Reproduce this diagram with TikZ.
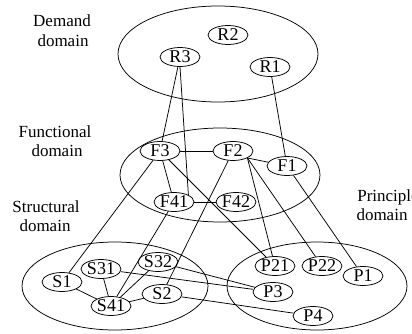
\documentclass[tikz,border=0pt]{standalone}
\usepackage{fontspec}
\setmainfont{Liberation Serif}
\usetikzlibrary{shapes.geometric}
\begin{document}
\begin{tikzpicture}[x=1pt,y=-1pt,
  domainarea/.style={draw, line width=0.75pt},
  elem/.style={draw, ellipse, line width=0.75pt, inner sep=0pt,
    minimum width=40pt, minimum height=19pt,
    font=\fontsize{18}{20}\selectfont},
  lbl/.style={anchor=base, inner sep=0pt, font=\fontsize{17}{19}\selectfont},
  link/.style={line width=0.75pt}]
\useasboundingbox (0,0) rectangle (412,334);

% domain areas
\draw[domainarea] (218,54) ellipse [x radius=100pt, y radius=48pt];
\draw[domainarea] (220,175) ellipse [x radius=100pt, y radius=47pt];
\draw[domainarea] (115,286) ellipse [x radius=93pt, y radius=44pt];
\draw[domainarea] (317,286) ellipse [x radius=90pt, y radius=44pt];

% domain labels
\node[lbl] (dem1) at (62,27) {Demand};
\node[lbl] (dem2) at (63,47) {domain};
\node[lbl] (fun1) at (55,137) {Functional};
\node[lbl] (fun2) at (57,157) {domain};
\node[lbl] (str1) at (46,212) {Structural};
\node[lbl] (str2) at (45,231) {domain};
\node[lbl] (pri1) at (388,201) {Principle};
\node[lbl] (pri2) at (382,220) {domain};

% demand elements
\node[elem] (R2) at (228,35) {R2};
\node[elem] (R3) at (180,57) {R3};
\node[elem] (R1) at (270,67) {R1};

% functional elements
\node[elem] (F3) at (160,151) {F3};
\node[elem] (F2) at (233,151) {F2};
\node[elem] (F1) at (287,166) {F1};
\node[elem] (F41) at (174,202) {F41};
\node[elem] (F42) at (236,202) {F42};

% structural elements
\node[elem] (S1) at (62,282) {S1};
\node[elem] (S31) at (101,269) {S31};
\node[elem] (S32) at (158,262) {S32};
\node[elem] (S41) at (111,306) {S41};
\node[elem] (S2) at (162,294) {S2};

% principle elements
\node[elem] (P21) at (275,266) {P21};
\node[elem] (P22) at (322,266) {P22};
\node[elem] (P1) at (363,276) {P1};
\node[elem] (P3) at (273,292) {P3};
\node[elem] (P4) at (313,316) {P4};

% mappings
\draw[link] (R3) -- (F3);
\draw[link] (R3.south) -- (F41.north east);
\draw[link] (R1) -- (F1);
\draw[link] (F3) -- (F2);
\draw[link] (F2.south east) -- (F1);
\draw[link] (F3) -- (F41);
\draw[link] (F41) -- (F42);
\draw[link] (F3) -- (S1);
\draw[link] (F3) -- (P21);
\draw[link] (F2) -- (S2);
\draw[link] (F2.south east) -- (P21);
\draw[link] (F2.south east) -- (P22);
\draw[link] (F1) -- (P1);
\draw[link] (F41) -- (S41);
\draw[link] (S1) -- (S41);
\draw[link] (S31) -- (S41);
\draw[link] (S32) -- (S41);
\draw[link] (S2) -- (S41);
\draw[link] (S31) -- (P3);
\draw[link] (S32) -- (P3);
\draw[link] (S2) -- (P4);
\end{tikzpicture}
\end{document}
